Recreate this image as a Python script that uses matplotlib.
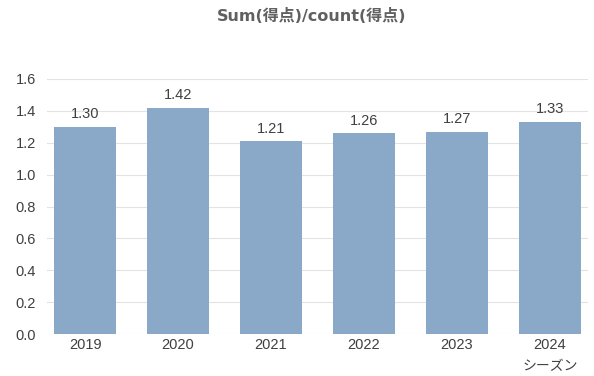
import matplotlib
matplotlib.use("Agg")
import matplotlib.pyplot as plt

plt.rcParams['font.family'] = ['Liberation Sans', 'Noto Sans CJK JP', 'DejaVu Sans']

seasons = ['2019', '2020', '2021', '2022', '2023', '2024']
values = [1.30, 1.42, 1.21, 1.26, 1.27, 1.33]
yticks = [0.0, 0.2, 0.4, 0.6, 0.8, 1.0, 1.2, 1.4, 1.6]

fig = plt.figure(figsize=(5.94, 3.76), dpi=100)
ax = fig.add_axes([47/594, 42/376, (588-47)/594, (334-79)/376])

x = list(range(len(seasons)))
ax.bar(x, values, width=0.667, color='#8aa8c8', zorder=2)
for xi, v in zip(x, values):
    ax.annotate(f'{v:.2f}', (xi, v), xytext=(0, 4), textcoords='offset points',
                ha='center', va='bottom', fontsize=10.5, color='#404040')

ax.set_xlim(-0.41, 5.41)
ax.set_ylim(0, 1.6)
ax.set_yticks(yticks)
ax.set_yticklabels([f'{t:.1f}' for t in yticks])
ax.set_xticks(x)
ax.set_xticklabels(seasons)
ax.grid(axis='y', color='#e3e3e3', linewidth=0.8, zorder=0)
for s in ax.spines.values():
    s.set_visible(False)
ax.tick_params(axis='both', length=0, labelsize=10.5, labelcolor='#404040')
ax.tick_params(axis='y', pad=8)
ax.tick_params(axis='x', pad=3)

fig.text(550/594, 1-366/376, 'シーズン', ha='center', va='center', fontsize=10,
         color='#404040', family=['Noto Sans CJK JP', 'DejaVu Sans'])
fig.text(312/594, 1-16/376, 'Sum(得点)/count(得点)', ha='center', va='center',
         fontsize=11.5, fontweight='bold', color='#606060',
         family=['DejaVu Sans', 'Noto Sans CJK JP'])

fig.savefig('out.png', dpi=100)
